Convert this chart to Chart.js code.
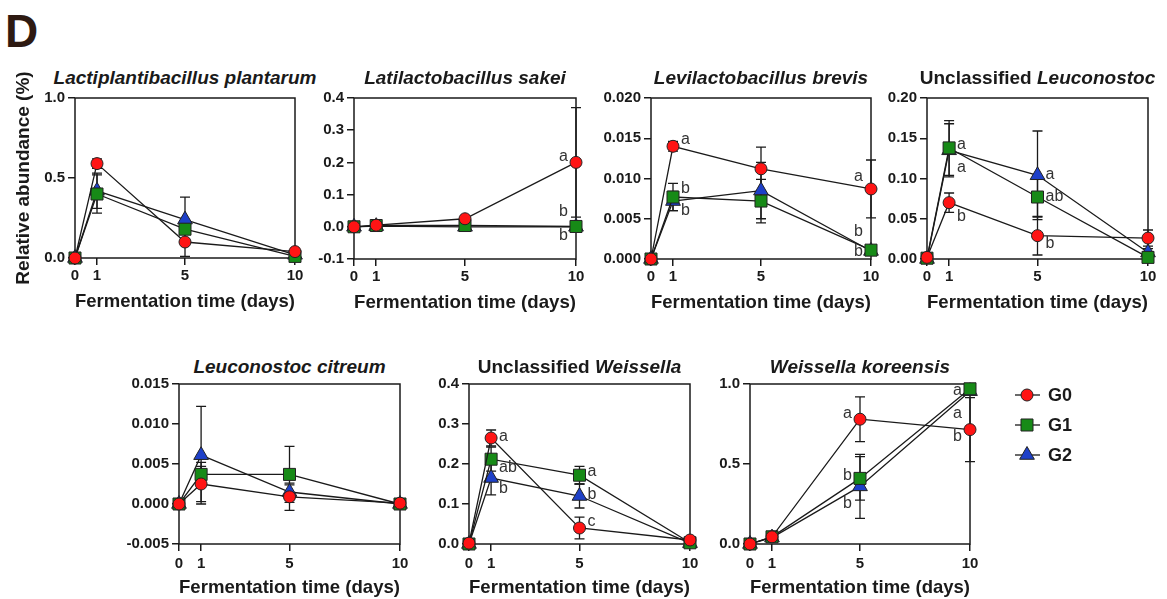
<!DOCTYPE html>
<html>
<head>
<meta charset="utf-8">
<script src="https://cdn.jsdelivr.net/npm/chart.js@4/dist/chart.umd.min.js"></script>
<style>
  body { margin:0; background:#fff; width:1167px; height:599px; position:relative; overflow:hidden;
         font-family:"Liberation Sans", Arial, sans-serif; color:#1a1a1a; }
  canvas { position:absolute; }
  .ttl { position:absolute; width:400px; text-align:center; font-weight:bold; font-size:19px;
         line-height:22px; white-space:nowrap; }
  #panelD { position:absolute; left:5px; top:8px; font-weight:bold; font-size:46px; line-height:46px; color:#2e1a12; }
</style>
</head>
<body>
<div id="panelD">D</div>
<script>
// x positions (days) and groups
const days = [0, 1, 5, 10];
const groups = ['G0', 'G1', 'G2'];

// Lactiplantibacillus plantarum
const plantarumG0 = [0, 0.59, 0.10, 0.04];
const plantarumG1 = [0, 0.40, 0.18, 0.01];
const plantarumG2 = [0, 0.42, 0.24, 0.02];
const plantarumSdG0 = [0, 0.03, 0.09, 0.01];
const plantarumSdG1 = [0, 0.12, 0.03, 0.01];
const plantarumSdG2 = [0, 0.11, 0.14, 0.01];
const plantarumYTicks = [0, 0.5, 1.0];

// Latilactobacillus sakei
const sakeiG0 = [0, 0.005, 0.025, 0.20];
const sakeiG1 = [0, 0.004, 0.004, 0.001];
const sakeiG2 = [0, 0.002, 0.000, 0.000];
const sakeiSdG0 = [0, 0.002, 0.005, 0.17];
const sakeiSdG1 = [0, 0.002, 0.003, 0.001];
const sakeiSdG2 = [0, 0.001, 0.001, 0.001];
const sakeiYTicks = [-0.1, 0, 0.1, 0.2, 0.3, 0.4];
const sakeiLetters = [[10, 0.218, 'a', 'L'], [10, 0.047, 'b', 'L'], [10, -0.028, 'b', 'L']];

// Levilactobacillus brevis
const brevisG0 = [0, 0.0140, 0.0112, 0.0087];
const brevisG1 = [0, 0.0077, 0.0072, 0.0011];
const brevisG2 = [0, 0.0072, 0.0085, 0.0010];
const brevisSdG0 = [0, 0.0006, 0.0027, 0.0036];
const brevisSdG1 = [0, 0.0017, 0.0027, 0.0002];
const brevisSdG2 = [0, 0.0012, 0.0035, 0.0002];
const brevisYTicks = [0, 0.005, 0.010, 0.015, 0.020];
const brevisLetters = [[1, 0.0148, 'a', 'R'], [1, 0.0088, 'b', 'R'], [1, 0.0060, 'b', 'R'],
                       [10, 0.0102, 'a', 'L'], [10, 0.0034, 'b', 'L'], [10, 0.0009, 'b', 'L']];

// Unclassified Leuconostoc
const leucG0 = [0.002, 0.070, 0.029, 0.026];
const leucG1 = [0.001, 0.138, 0.077, 0.002];
const leucG2 = [0, 0.135, 0.104, 0.008];
const leucSdG0 = [0, 0.012, 0.024, 0.010];
const leucSdG1 = [0, 0.034, 0.025, 0.002];
const leucSdG2 = [0, 0.033, 0.055, 0.005];
const leucYTicks = [0, 0.05, 0.10, 0.15, 0.20];
const leucLetters = [[1, 0.142, 'a', 'R'], [1, 0.113, 'a', 'R'], [1, 0.053, 'b', 'R'],
                     [5, 0.105, 'a', 'R'], [5, 0.077, 'ab', 'R'], [5, 0.019, 'b', 'R']];

// Leuconostoc citreum
const citreumG0 = [0, 0.0025, 0.0009, 0.0001];
const citreumG1 = [0, 0.0037, 0.0037, 0.0000];
const citreumG2 = [0, 0.0061, 0.0015, 0.0000];
const citreumSdG0 = [0, 0.0022, 0.0017, 0];
const citreumSdG1 = [0, 0.0015, 0.0035, 0];
const citreumSdG2 = [0, 0.0061, 0.0009, 0];
const citreumYTicks = [-0.005, 0, 0.005, 0.010, 0.015];

// Unclassified Weissella
const weisG0 = [0.002, 0.265, 0.040, 0.010];
const weisG1 = [0, 0.212, 0.172, 0.003];
const weisG2 = [0, 0.165, 0.120, 0.002];
const weisSdG0 = [0, 0.020, 0.027, 0.003];
const weisSdG1 = [0, 0.030, 0.022, 0.002];
const weisSdG2 = [0, 0.042, 0.030, 0.002];
const weisYTicks = [0, 0.1, 0.2, 0.3, 0.4];
const weisLetters = [[1, 0.268, 'a', 'R'], [1, 0.19, 'ab', 'R'], [1, 0.138, 'b', 'R'],
                     [5, 0.18, 'a', 'R'], [5, 0.124, 'b', 'R'], [5, 0.056, 'c', 'R']];

// Weissella koreensis
const koreG0 = [0, 0.045, 0.78, 0.715];
const koreG1 = [0, 0.045, 0.41, 0.97];
const koreG2 = [0, 0.040, 0.36, 0.955];
const koreSdG0 = [0, 0.01, 0.14, 0.20];
const koreSdG1 = [0, 0.01, 0.136, 0.02];
const koreSdG2 = [0, 0.01, 0.20, 0.02];
const koreYTicks = [0, 0.5, 1.0];
const koreLetters = [[5, 0.817, 'a', 'L'], [5, 0.43, 'b', 'L'], [5, 0.254, 'b', 'L'],
                     [10, 0.958, 'a', 'L'], [10, 0.817, 'a', 'L'], [10, 0.67, 'b', 'L']];

// marker look per group
const groupStyle = [
  { pointStyle: 'circle', r: 6, color: '#ff1414' },
  { pointStyle: 'rect', r: 8.5, color: '#178a17' },
  { pointStyle: 'triangle', r: 8.5, color: '#1e40c8' }
];

const FONT = '"Liberation Sans", Arial, sans-serif';
const INK = '#1a1a1a';

// panels: plot box = [left, right, top, bottom] in page pixels
const panels = [
  { title: '<i>Lactiplantibacillus plantarum</i>', series: [plantarumG0, plantarumG1, plantarumG2],
    sd: [plantarumSdG0, plantarumSdG1, plantarumSdG2], yTicks: plantarumYTicks, dec: 1, letters: [],
    box: [75, 295, 98, 258], row: 0, yTitle: true },
  { title: '<i>Latilactobacillus sakei</i>', series: [sakeiG0, sakeiG1, sakeiG2],
    sd: [sakeiSdG0, sakeiSdG1, sakeiSdG2], yTicks: sakeiYTicks, dec: 1, letters: sakeiLetters,
    box: [354, 576, 98, 259], row: 0 },
  { title: '<i>Levilactobacillus brevis</i>', series: [brevisG0, brevisG1, brevisG2],
    sd: [brevisSdG0, brevisSdG1, brevisSdG2], yTicks: brevisYTicks, dec: 3, letters: brevisLetters,
    box: [651, 871, 98, 259], row: 0 },
  { title: 'Unclassified <i>Leuconostoc</i>', series: [leucG0, leucG1, leucG2],
    sd: [leucSdG0, leucSdG1, leucSdG2], yTicks: leucYTicks, dec: 2, letters: leucLetters,
    box: [927, 1148, 98, 259], row: 0 },
  { title: '<i>Leuconostoc citreum</i>', series: [citreumG0, citreumG1, citreumG2],
    sd: [citreumSdG0, citreumSdG1, citreumSdG2], yTicks: citreumYTicks, dec: 3, letters: [],
    box: [179, 400, 384, 544], row: 1 },
  { title: 'Unclassified <i>Weissella</i>', series: [weisG0, weisG1, weisG2],
    sd: [weisSdG0, weisSdG1, weisSdG2], yTicks: weisYTicks, dec: 1, letters: weisLetters,
    box: [469, 690, 384, 544], row: 1 },
  { title: '<i>Weissella koreensis</i>', series: [koreG0, koreG1, koreG2],
    sd: [koreSdG0, koreSdG1, koreSdG2], yTicks: koreYTicks, dec: 1, letters: koreLetters,
    box: [750, 970, 384, 544], row: 1, legend: true }
];

// box around plot area
const frame = {
  id: 'frame',
  beforeDatasetsDraw(chart) {
    const { ctx, chartArea: a } = chart;
    ctx.save();
    ctx.strokeStyle = INK; ctx.lineWidth = 1.5;
    ctx.strokeRect(a.left, a.top, a.right - a.left, a.bottom - a.top);
    ctx.restore();
  }
};

// mean +/- sd bars
const errorBars = {
  id: 'errorBars',
  beforeDatasetsDraw(chart) {
    const ctx = chart.ctx, ys = chart.scales.y;
    ctx.save();
    ctx.strokeStyle = INK; ctx.lineWidth = 1.3;
    chart.data.datasets.forEach((ds, i) => {
      const meta = chart.getDatasetMeta(i);
      ds.data.forEach((pt, j) => {
        const e = ds.sd[j];
        if (!e) return;
        const x = meta.data[j].x;
        const a = ys.getPixelForValue(pt.y + e), b = ys.getPixelForValue(pt.y - e);
        ctx.beginPath();
        ctx.moveTo(x, a); ctx.lineTo(x, b);
        ctx.moveTo(x - 5, a); ctx.lineTo(x + 5, a);
        ctx.moveTo(x - 5, b); ctx.lineTo(x + 5, b);
        ctx.stroke();
      });
    });
    ctx.restore();
  }
};

// significance letters
const letters = {
  id: 'letters',
  afterDatasetsDraw(chart, args, opts) {
    const ctx = chart.ctx, xs = chart.scales.x, ys = chart.scales.y;
    ctx.save();
    ctx.font = '16px ' + FONT;
    ctx.fillStyle = '#333';
    ctx.textBaseline = 'middle';
    (opts.items || []).forEach(([d, v, t, side]) => {
      const x = xs.getPixelForValue(d), y = ys.getPixelForValue(v);
      ctx.textAlign = side === 'L' ? 'right' : 'left';
      ctx.fillText(t, side === 'L' ? x - 8 : x + 8, y);
    });
    ctx.restore();
  }
};

// legend with line-marker-line keys
const sideLegend = {
  id: 'sideLegend',
  afterDraw(chart, args, opts) {
    if (!opts.show) return;
    const ctx = chart.ctx, a = chart.chartArea;
    chart.data.datasets.forEach((ds, i) => {
      const cy = a.top + 11 + 30 * i;
      ctx.save();
      ctx.strokeStyle = INK; ctx.lineWidth = 1.3;
      ctx.beginPath(); ctx.moveTo(a.right + 45, cy); ctx.lineTo(a.right + 70, cy); ctx.stroke();
      ctx.fillStyle = ds.pointBackgroundColor; ctx.strokeStyle = ds.pointBorderColor; ctx.lineWidth = 1;
      Chart.helpers.drawPoint(ctx, { pointStyle: ds.pointStyle, radius: ds.pointRadius, borderWidth: 1 },
        a.right + 57, cy);
      ctx.fillStyle = INK;
      ctx.font = 'bold 18px ' + FONT;
      ctx.textAlign = 'left'; ctx.textBaseline = 'middle';
      ctx.fillText(ds.label, a.right + 78, cy + 1);
      ctx.restore();
    });
  }
};

panels.forEach(p => {
  const [x0, x1, yT, yB] = p.box;
  const yw = p.yTitle ? x0 : 70;
  const pr = p.legend ? 190 : 14;
  const pt = p.yTitle ? 40 : 12;
  const xh = 57;
  const W = x1 - x0 + yw + pr, H = yB - yT + pt + xh;

  const t = document.createElement('div');
  t.className = 'ttl';
  t.innerHTML = p.title;
  t.style.left = ((x0 + x1) / 2 - 200) + 'px';
  t.style.top = (p.row === 0 ? 67 : 356) + 'px';
  document.body.appendChild(t);

  const cv = document.createElement('canvas');
  cv.width = W; cv.height = H;
  cv.style.width = W + 'px'; cv.style.height = H + 'px';
  cv.style.left = (x0 - yw) + 'px'; cv.style.top = (yT - pt) + 'px';
  document.body.appendChild(cv);

  const datasets = p.series.map((vals, g) => ({
    label: groups[g],
    data: days.map((d, i) => ({ x: d, y: vals[i] })),
    sd: p.sd[g],
    borderColor: INK,
    borderWidth: 1.3,
    pointStyle: groupStyle[g].pointStyle,
    pointRadius: groupStyle[g].r,
    pointBackgroundColor: groupStyle[g].color,
    pointBorderColor: '#222',
    pointBorderWidth: 1,
    tension: 0,
    clip: false
  }));

  const tickFont = { family: FONT, size: 15, weight: 'bold' };
  const yMin = p.yTicks[0], yMax = p.yTicks[p.yTicks.length - 1];

  new Chart(cv, {
    type: 'line',
    data: { datasets },
    options: {
      responsive: false,
      animation: false,
      devicePixelRatio: 1,
      layout: { padding: { left: 0, right: pr, top: pt, bottom: 0 } },
      plugins: {
        legend: { display: false },
        tooltip: { enabled: false },
        letters: { items: p.letters },
        sideLegend: { show: !!p.legend }
      },
      scales: {
        x: {
          type: 'linear', min: 0, max: 10,
          afterBuildTicks: s => { s.ticks = days.map(v => ({ value: v })); },
          afterFit: s => { s.height = xh; },
          ticks: { font: tickFont, color: INK, padding: p.row === 0 ? 2 : 4, maxRotation: 0 },
          grid: { drawOnChartArea: false, drawTicks: true, tickLength: 7, color: INK, lineWidth: 1.5 },
          border: { display: false },
          title: { display: true, text: 'Fermentation time (days)', color: INK,
                   font: { family: FONT, size: 19, weight: 'bold' }, padding: { top: 0, bottom: 2 } }
        },
        y: {
          min: yMin, max: yMax,
          afterBuildTicks: s => { s.ticks = p.yTicks.map(v => ({ value: v })); },
          afterFit: s => { s.width = yw; },
          ticks: { font: tickFont, color: INK, padding: 3,
                   callback: v => (Math.abs(v) < 1e-9 ? 0 : v).toFixed(p.dec) },
          grid: { drawOnChartArea: false, drawTicks: true, tickLength: 7, color: INK, lineWidth: 1.5 },
          border: { display: false },
          title: { display: !!p.yTitle, text: 'Relative abundance (%)', color: INK,
                   font: { family: FONT, size: 19, weight: 'bold' }, padding: { top: 12, bottom: 0 } }
        }
      }
    },
    plugins: [frame, errorBars, letters, sideLegend]
  });
});
</script>
</body>
</html>
